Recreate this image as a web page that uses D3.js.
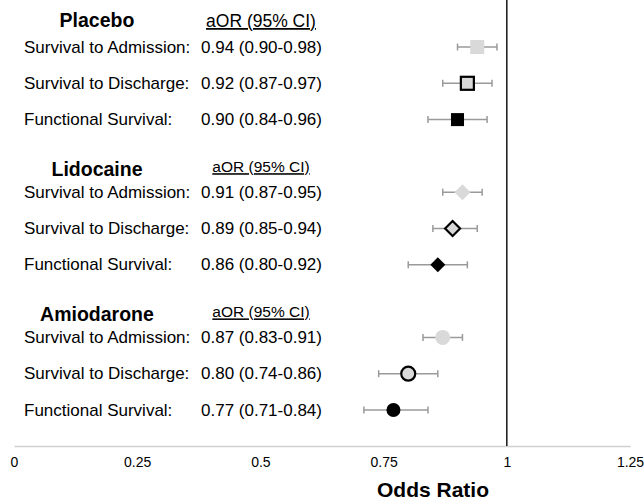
<!DOCTYPE html>
<html><head><meta charset="utf-8">
<script src="https://cdn.jsdelivr.net/npm/d3@7"></script>
<style>body{margin:0;background:#fff}svg{display:block}text{font-family:"Liberation Sans",Arial,sans-serif}</style>
</head><body>
<script>
const groups = ["Placebo", "Lidocaine", "Amiodarone"];
const outcomes = ["Survival to Admission:", "Survival to Discharge:", "Functional Survival:"];
const aor   = [[0.94, 0.92, 0.90], [0.91, 0.89, 0.86], [0.87, 0.80, 0.77]];
const lower = [[0.90, 0.87, 0.84], [0.87, 0.85, 0.80], [0.83, 0.74, 0.71]];
const upper = [[0.98, 0.97, 0.96], [0.95, 0.94, 0.92], [0.91, 0.86, 0.84]];
const tickValues = [0, 0.25, 0.5, 0.75, 1, 1.25];
const tickLabels = ["0", "0.25", "0.5", "0.75", "1", "1.25"];
const colHeader = "aOR (95% CI)";
const xTitle = "Odds Ratio";

const W = 644, H = 502;
const svg = d3.select("body").append("svg").attr("width", W).attr("height", H);
const x = d3.scaleLinear().domain([0, 1.25]).range([14, 630]);
const y = d3.scaleLinear().domain([1, 11]).range([47, 410]);
const axisY = 446;

// axis
const axis = d3.axisBottom(x).tickValues(tickValues).tickFormat((d, i) => tickLabels[i]).tickSize(0).tickPadding(11);
const ag = svg.append("g").attr("transform", `translate(0,${axisY})`).call(axis);
ag.select(".domain").attr("stroke", "#d0d0d0").attr("stroke-width", 1.5);
ag.selectAll(".tick text").attr("font-size", 14).attr("fill", "#000").style("font-family", '"Liberation Sans",Arial,sans-serif');

// reference line at 1
svg.append("line").attr("x1", x(1)).attr("x2", x(1)).attr("y1", 0).attr("y2", axisY)
  .attr("stroke", "#222").attr("stroke-width", 1.6);

svg.append("text").attr("x", 433).attr("y", 497).attr("text-anchor", "middle")
  .attr("font-size", 21).attr("font-weight", "bold").text(xTitle);

const rows = [];
groups.forEach((g, gi) => outcomes.forEach((o, oi) => rows.push({gi, oi, label: o,
  est: aor[gi][oi], lo: lower[gi][oi], hi: upper[gi][oi], idx: gi * 4 + oi + 1})));

// headers
groups.forEach((g, gi) => {
  const yb = y(gi * 4 + 1) - (gi === 0 ? 20 : 16);
  svg.append("text").attr("x", 97).attr("y", yb).attr("text-anchor", "middle")
    .attr("font-size", 19.5).attr("font-weight", "bold").text(g);
  svg.append("text").attr("x", 261).attr("y", yb - (gi === 0 ? 0 : 4)).attr("text-anchor", "middle")
    .attr("font-size", gi === 0 ? 17.5 : 15.5).attr("text-decoration", "underline").text(colHeader);
});

const fmt = d3.format(".2f");
rows.forEach(r => {
  const yy = y(r.idx);
  svg.append("text").attr("x", 24).attr("y", yy).attr("dominant-baseline", "central")
    .attr("font-size", 17).text(r.label);
  svg.append("text").attr("x", 201).attr("y", yy).attr("dominant-baseline", "central")
    .attr("font-size", 17).text(`${fmt(r.est)} (${fmt(r.lo)}-${fmt(r.hi)})`);
  // CI
  const g = svg.append("g").attr("stroke", "#9a9a9a").attr("stroke-width", 1.5);
  g.append("line").attr("x1", x(r.lo)).attr("x2", x(r.hi)).attr("y1", yy).attr("y2", yy);
  g.append("line").attr("x1", x(r.lo)).attr("x2", x(r.lo)).attr("y1", yy - 3.5).attr("y2", yy + 3.5);
  g.append("line").attr("x1", x(r.hi)).attr("x2", x(r.hi)).attr("y1", yy - 3.5).attr("y2", yy + 3.5);
  // marker
  const fill = r.oi === 2 ? "#000" : "#d9d9d9";
  const stroke = r.oi === 1 ? "#000" : "none";
  const cx = x(r.est);
  let m;
  if (r.gi === 0) {
    const s = r.oi === 0 ? 14 : 13;
    m = svg.append("rect").attr("x", cx - s / 2).attr("y", yy - s / 2).attr("width", s).attr("height", s);
  } else if (r.gi === 1) {
    const s = r.oi === 0 ? 8 : 7.5;
    m = svg.append("path").attr("d", `M${cx},${yy - s}L${cx + s},${yy}L${cx},${yy + s}L${cx - s},${yy}Z`);
  } else {
    m = svg.append("circle").attr("cx", cx).attr("cy", yy).attr("r", r.oi === 0 ? 7.5 : 7);
  }
  m.attr("fill", fill).attr("stroke", stroke).attr("stroke-width", 2.2);
});
</script>
</body></html>
